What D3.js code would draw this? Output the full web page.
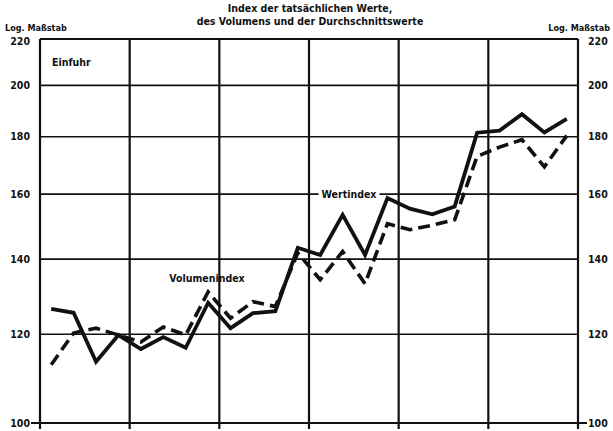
<!DOCTYPE html>
<html>
<head>
<meta charset="utf-8">
<script src="https://d3js.org/d3.v7.min.js"></script>
<style>
  body { margin: 0; background: #fff; }
  text { font-family: "DejaVu Sans Condensed", "Liberation Sans Narrow", "Liberation Sans", sans-serif; font-weight: bold; fill: #111; }
</style>
</head>
<body>
<svg width="613" height="431"></svg>
<script>
// six years, four quarters each
const years = ["1", "2", "3", "4", "5", "6"];
const quarters = ["I", "II", "III", "IV"];
const yTicks = [100, 120, 140, 160, 180, 200, 220];

const wertindex = [126.4, 125.4, 113.4, 119.8, 116.4, 119.3, 116.7, 128.0,
                   121.5, 125.3, 125.8, 143.3, 141.2, 153.3, 141.2, 158.7,
                   155.3, 153.5, 156.0, 181.5, 182.3, 188.5, 181.6, 186.7];
const volumenindex = [112.7, 120.3, 121.5, 119.8, 118.1, 121.8, 119.8, 130.9,
                      124.0, 128.3, 127.0, 141.8, 134.2, 142.2, 133.1, 150.6,
                      148.7, 150.1, 151.8, 172.9, 176.2, 178.9, 169.2, 180.4];

const periods = [];
years.forEach(yr => quarters.forEach(q => periods.push(yr + "-" + q)));

const svg = d3.select("svg");
const mLeft = 40, mRight = 578, mTop = 39, mBottom = 423;

const x = d3.scaleBand().domain(periods).range([mLeft, mRight]).padding(0);
const xYear = d3.scaleBand().domain(years).range([mLeft, mRight]).padding(0);
const y = d3.scaleLog().domain([100, 220]).range([mBottom, mTop]);

// horizontal grid
svg.append("g").selectAll("line")
  .data(yTicks).enter().append("line")
  .attr("x1", mLeft).attr("x2", mRight)
  .attr("y1", d => y(d)).attr("y2", d => y(d))
  .attr("stroke", "#111")
  .attr("stroke-width", d => (d === 100 || d === 220) ? 2 : 1.6);

// vertical grid (year boundaries)
const bounds = years.map(d => xYear(d)).concat([mRight]);
svg.append("g").selectAll("line")
  .data(bounds).enter().append("line")
  .attr("x1", d => d).attr("x2", d => d)
  .attr("y1", mTop).attr("y2", mBottom + 6)
  .attr("stroke", "#111")
  .attr("stroke-width", 2.2);

// ticks for 100
svg.append("line").attr("x1", 31).attr("x2", mLeft).attr("y1", y(100)).attr("y2", y(100))
  .attr("stroke", "#111").attr("stroke-width", 2);
svg.append("line").attr("x1", mRight).attr("x2", 587).attr("y1", y(100)).attr("y2", y(100))
  .attr("stroke", "#111").attr("stroke-width", 2);

// tick labels both sides
const labs = svg.append("g").style("font-size", "10.5px");
labs.selectAll(".l").data(yTicks).enter().append("text")
  .attr("x", 30).attr("y", d => y(d) + (d === 220 ? 2 : 0)).attr("dy", "0.35em")
  .attr("text-anchor", "end").text(d => d);
labs.selectAll(".r").data(yTicks).enter().append("text")
  .attr("x", 588).attr("y", d => y(d) + (d === 220 ? 2 : 0)).attr("dy", "0.35em")
  .attr("text-anchor", "start").text(d => d);

svg.append("text").attr("x", 5).attr("y", 31).style("font-size", "9px").text("Log. Maßstab");
svg.append("text").attr("x", 610).attr("y", 31).attr("text-anchor", "end").style("font-size", "9px").text("Log. Maßstab");

// title
const title = svg.append("text").attr("x", 310).attr("text-anchor", "middle").style("font-size", "10.5px");
title.append("tspan").attr("x", 310).attr("y", 12).text("Index der tatsächlichen Werte,");
title.append("tspan").attr("x", 310).attr("y", 25).text("des Volumens und der Durchschnittswerte");

svg.append("text").attr("x", 52).attr("y", 66).style("font-size", "10.5px").text("Einfuhr");

// series
const line = d3.line()
  .x((d, i) => x(periods[i]) + x.bandwidth() / 2)
  .y(d => y(d));

svg.append("path").datum(volumenindex)
  .attr("d", line).attr("fill", "none")
  .attr("stroke", "#111").attr("stroke-width", 3.6)
  .attr("stroke-dasharray", "12,6");

svg.append("path").datum(wertindex)
  .attr("d", line).attr("fill", "none")
  .attr("stroke", "#111").attr("stroke-width", 3.8)
  .attr("stroke-linejoin", "miter");

// series labels
const bg = svg.append("rect").attr("fill", "#fff");
const wl = svg.append("text").attr("x", 349).attr("y", y(160)).attr("dy", "0.35em")
  .attr("text-anchor", "middle").style("font-size", "10.5px").text("Wertindex");
const bb = wl.node().getBBox();
bg.attr("x", bb.x - 3).attr("y", bb.y).attr("width", bb.width + 6).attr("height", bb.height);

svg.append("text").attr("x", 207).attr("y", 282)
  .attr("text-anchor", "middle").style("font-size", "10.5px").text("Volumenindex");
</script>
</body>
</html>
